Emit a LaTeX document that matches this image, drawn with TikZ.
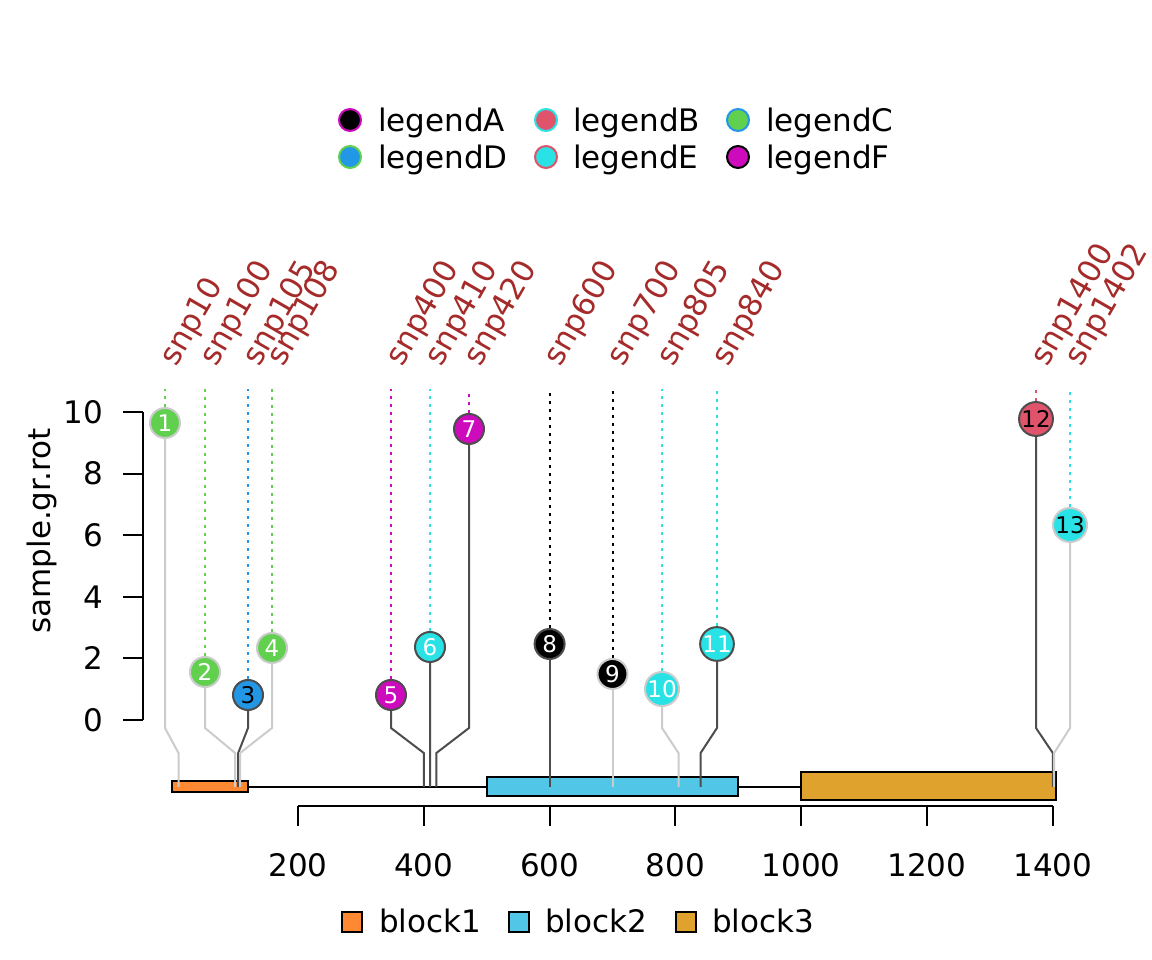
\documentclass[tikz,border=0pt]{standalone}
\usepackage{fontspec}
\setmainfont{DejaVu Sans}
\definecolor{rgreen}{HTML}{61D04F}
\definecolor{rblue}{HTML}{2297E6}
\definecolor{rcyan}{HTML}{28E2E5}
\definecolor{rmagenta}{HTML}{CD0BBC}
\definecolor{rred}{HTML}{DF536B}
\definecolor{paleline}{HTML}{CCCCCC}
\definecolor{darkline}{HTML}{4D4D4D}
\definecolor{snpbrown}{HTML}{A52A2A}
\definecolor{blockA}{HTML}{FF8833}
\definecolor{blockB}{HTML}{51C6E6}
\definecolor{blockC}{HTML}{DFA32D}
\tikzset{
  bigfont/.style={font=\fontsize{31bp}{37bp}\selectfont},
  lolli/.style={circle, minimum size=30bp, inner sep=0pt, line width=2bp, font=\fontsize{23bp}{27bp}\selectfont},
  pale/.style={draw=paleline},
  dark/.style={draw=darkline},
  stempale/.style={line width=2bp, paleline},
  stemdark/.style={line width=2bp, darkline},
  dotline/.style={line width=2bp, dash pattern=on 3bp off 5bp},
  snplabel/.style={bigfont, text=snpbrown, rotate=60, anchor=base west, inner sep=0pt},
  ticklabel/.style={bigfont, inner sep=0pt},
  legtext/.style={bigfont, anchor=base west, inner sep=0pt},
  legdot/.style={circle, minimum size=22bp, inner sep=0pt, line width=2bp},
  legkey/.style={rectangle, draw=black, minimum size=20bp, inner sep=0pt, line width=2bp},
  axisline/.style={line width=2bp, black},
}

\begin{document}
\begin{tikzpicture}[x=1bp, y=1bp]
			%%%%% FRAME %%%%%
			\fill[white] (0,0) rectangle (1152,960);
			\useasboundingbox (0,0) rectangle (1152,960);
			
			\coordinate (lo) at (0,207);
			\coordinate (hi) at (0,232);
			\coordinate (top) at (0,571);
			
			%%%%% LEGEND TOP %%%%%
			\node[legdot, draw=rmagenta, fill=black] (dA) at (350,840) {};
			\node[legtext] (tA) at (378,828) {legendA};
			\node[legdot, draw=rcyan, fill=rred] (dB) at (546,840) {};
			\node[legtext] (tB) at (573,828) {legendB};
			\node[legdot, draw=rblue, fill=rgreen] (dC) at (738,840) {};
			\node[legtext] (tC) at (766,828) {legendC};
			\node[legdot, draw=rgreen, fill=rblue] (dD) at (350,803) {};
			\node[legtext] (tD) at (378,791) {legendD};
			\node[legdot, draw=rred, fill=rcyan] (dE) at (546,803) {};
			\node[legtext] (tE) at (573,791) {legendE};
			\node[legdot, draw=black, fill=rmagenta] (dF) at (738,803) {};
			\node[legtext] (tF) at (766,791) {legendF};
			
			%%%%% Y AXIS %%%%%
			\draw[axisline] (143,240) -- (143,548);
			\draw[axisline] (123,240) -- (143,240);
			\draw[axisline] (123,301.6) -- (143,301.6);
			\draw[axisline] (123,363.2) -- (143,363.2);
			\draw[axisline] (123,424.8) -- (143,424.8);
			\draw[axisline] (123,486.4) -- (143,486.4);
			\draw[axisline] (123,548) -- (143,548);
			\node[ticklabel, anchor=east] (y0) at (103,240) {0};
			\node[ticklabel, anchor=east] (y2) at (103,301.6) {2};
			\node[ticklabel, anchor=east] (y4) at (103,363.2) {4};
			\node[ticklabel, anchor=east] (y6) at (103,424.8) {6};
			\node[ticklabel, anchor=east] (y8) at (103,486.4) {8};
			\node[ticklabel, anchor=east] (y10) at (103,548) {10};
			\node[bigfont, rotate=90, anchor=base, inner sep=0pt] (ylab) at (50,429) {sample.gr.rot};
			
			%%%%% X AXIS %%%%%
			\draw[axisline] (298,154) -- (1052.8,154);
			\draw[axisline] (298,154) -- (298,134);
			\draw[axisline] (423.8,154) -- (423.8,134);
			\draw[axisline] (549.6,154) -- (549.6,134);
			\draw[axisline] (675.4,154) -- (675.4,134);
			\draw[axisline] (801.2,154) -- (801.2,134);
			\draw[axisline] (927,154) -- (927,134);
			\draw[axisline] (1052.8,154) -- (1052.8,134);
			\node[ticklabel] (x200) at (298,95) {200};
			\node[ticklabel] (x400) at (423.8,95) {400};
			\node[ticklabel] (x600) at (549.6,95) {600};
			\node[ticklabel] (x800) at (675.4,95) {800};
			\node[ticklabel] (x1000) at (801.2,95) {1000};
			\node[ticklabel] (x1200) at (927,95) {1200};
			\node[ticklabel] (x1400) at (1052.8,95) {1400};
			
			%%%%% BACKBONE AND BLOCKS %%%%%
			\draw[axisline] (172,173) -- (1056,173);
			\draw[axisline, fill=blockA] (172,168) rectangle (248,179);
			\draw[axisline, fill=blockB] (487,164) rectangle (738,183);
			\draw[axisline, fill=blockC] (801,160) rectangle (1056,188);
			
			%%%%% LOLLIPOPS %%%%%
			\node[lolli, pale, fill=rgreen, text=white] (p1) at (165,537) {1};
			\node[lolli, pale, fill=rgreen, text=white] (p2) at (205,288) {2};
			\node[lolli, dark, fill=rblue, text=black] (p3) at (248,265) {3};
			\node[lolli, pale, fill=rgreen, text=white] (p4) at (272,312) {4};
			\node[lolli, dark, fill=rmagenta, text=white] (p5) at (391,265) {5};
			\node[lolli, dark, fill=rcyan, text=white] (p6) at (430,313) {6};
			\node[lolli, dark, fill=rmagenta, text=white] (p7) at (469,531) {7};
			\node[lolli, dark, fill=black, text=white] (p8) at (549.6,316) {8};
			\node[lolli, pale, fill=black, text=white] (p9) at (612.5,286) {9};
			\node[lolli, pale, fill=rcyan, text=white] (p10) at (662,271) {10};
			\node[lolli, dark, fill=rcyan, text=white] (p11) at (717,316) {11};
			\node[lolli, dark, fill=rred, text=black] (p12) at (1036,541) {12};
			\node[lolli, pale, fill=rcyan, text=black] (p13) at (1070,435) {13};
			
			\coordinate (b1) at (178.5,173);
			\coordinate (b2) at (235.1,173);
			\coordinate (b3) at (238.2,173);
			\coordinate (b4) at (240.1,173);
			\coordinate (b5) at (423.8,173);
			\coordinate (b6) at (430.1,173);
			\coordinate (b7) at (436.4,173);
			\coordinate (b8) at (549.6,173);
			\coordinate (b9) at (612.5,173);
			\coordinate (b10) at (678.5,173);
			\coordinate (b11) at (700.6,173);
			\coordinate (b12) at (1052.8,173);
			\coordinate (b13) at (1054.1,173);
			
			\draw[stempale] (b1) -- (b1 |- lo) -- (p1 |- hi) -- (p1);
			\draw[stempale] (b2) -- (b2 |- lo) -- (p2 |- hi) -- (p2);
			\draw[stemdark] (b3) -- (b3 |- lo) -- (p3 |- hi) -- (p3);
			\draw[stempale] (b4) -- (b4 |- lo) -- (p4 |- hi) -- (p4);
			\draw[stemdark] (b5) -- (b5 |- lo) -- (p5 |- hi) -- (p5);
			\draw[stemdark] (b6) -- (b6 |- lo) -- (p6 |- hi) -- (p6);
			\draw[stemdark] (b7) -- (b7 |- lo) -- (p7 |- hi) -- (p7);
			\draw[stemdark] (b8) -- (p8);
			\draw[stempale] (b9) -- (p9);
			\draw[stempale] (b10) -- (b10 |- lo) -- (p10 |- hi) -- (p10);
			\draw[stemdark] (b11) -- (b11 |- lo) -- (p11 |- hi) -- (p11);
			\draw[stemdark] (b12) -- (b12 |- lo) -- (p12 |- hi) -- (p12);
			\draw[stempale] (b13) -- (b13 |- lo) -- (p13 |- hi) -- (p13);
			
			\draw[dotline, rgreen] (p1) -- (p1 |- top);
			\draw[dotline, rgreen] (p2) -- (p2 |- top);
			\draw[dotline, rblue] (p3) -- (p3 |- top);
			\draw[dotline, rgreen] (p4) -- (p4 |- top);
			\draw[dotline, rmagenta] (p5) -- (p5 |- top);
			\draw[dotline, rcyan] (p6) -- (p6 |- top);
			\draw[dotline, rmagenta] (p7) -- (p7 |- top);
			\draw[dotline, black] (p8) -- (p8 |- top);
			\draw[dotline, black] (p9) -- (p9 |- top);
			\draw[dotline, rcyan] (p10) -- (p10 |- top);
			\draw[dotline, rcyan] (p11) -- (p11 |- top);
			\draw[dotline, rred] (p12) -- (p12 |- top);
			\draw[dotline, rcyan] (p13) -- (p13 |- top);
			
			%%%%% SNP LABELS %%%%%
			\node[snplabel] (l1) at (176,592) {snp10};
			\node[snplabel] (l2) at (216,592) {snp100};
			\node[snplabel] (l3) at (259,592) {snp105};
			\node[snplabel] (l4) at (283,592) {snp108};
			\node[snplabel] (l5) at (402,592) {snp400};
			\node[snplabel] (l6) at (441,592) {snp410};
			\node[snplabel] (l7) at (480,592) {snp420};
			\node[snplabel] (l8) at (560.6,592) {snp600};
			\node[snplabel] (l9) at (623.5,592) {snp700};
			\node[snplabel] (l10) at (673,592) {snp805};
			\node[snplabel] (l11) at (728,592) {snp840};
			\node[snplabel] (l12) at (1047,592) {snp1400};
			\node[snplabel] (l13) at (1081,592) {snp1402};
			
			%%%%% LEGEND BOTTOM %%%%%
			\node[legkey, fill=blockA] (kA) at (352,37.5) {};
			\node[legtext] (kAt) at (379,27) {block1};
			\node[legkey, fill=blockB] (kB) at (519,37.5) {};
			\node[legtext] (kBt) at (545,27) {block2};
			\node[legkey, fill=blockC] (kC) at (685.5,37.5) {};
			\node[legtext] (kCt) at (712,27) {block3};
			
			%%%%% END %%%%%
\end{tikzpicture}
\end{document}
